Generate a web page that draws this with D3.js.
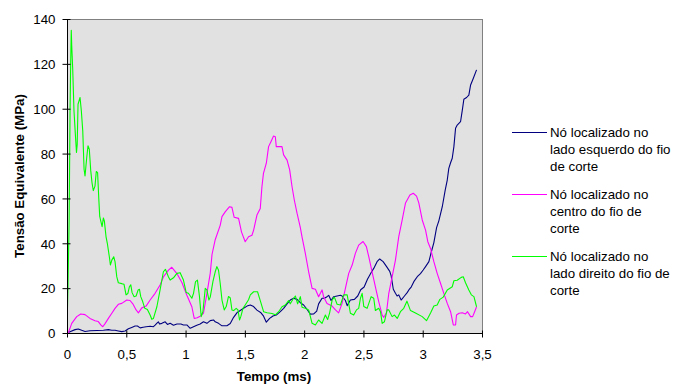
<!DOCTYPE html>
<html>
<head>
<meta charset="utf-8">
<script src="https://cdn.jsdelivr.net/npm/d3@7"></script>
<style>
  body { margin: 0; background: #fff; }
  svg text { font-family: "Liberation Sans", Arial, sans-serif; }
</style>
</head>
<body>
<div id="chart"></div>
<script>
// tempo (ms) / tensao (MPa)
var esquerdo = [[0,0],[0.025,0.6],[0.068,1.5],[0.095,1.8],[0.124,1.2],[0.152,0.7],[0.194,1],[0.251,1.1],[0.307,1.2],[0.349,1.5],[0.378,1.2],[0.405,1.2],[0.433,0.9],[0.462,0.6],[0.490,0.9],[0.518,1.9],[0.546,2.5],[0.574,3.1],[0.594,3.1],[0.617,2.3],[0.642,2.6],[0.667,2.8],[0.701,3],[0.729,2.8],[0.743,3.5],[0.763,4.6],[0.771,5],[0.780,4],[0.800,4.3],[0.828,5],[0.847,3.8],[0.870,4.3],[0.898,3.5],[0.927,4],[0.961,4],[0.982,3.6],[1.011,3.6],[1.039,2.1],[1.067,2.8],[1.095,3.5],[1.123,4],[1.151,5],[1.180,4.3],[1.208,5.5],[1.236,5.8],[1.250,5],[1.278,4.3],[1.307,3.2],[1.349,3.2],[1.377,4.2],[1.405,7],[1.433,9],[1.461,10],[1.489,11],[1.518,12],[1.546,12.5],[1.574,11.8],[1.602,10.2],[1.636,9],[1.658,7.5],[1.681,4.8],[1.709,6.5],[1.737,7.6],[1.765,8],[1.799,9.5],[1.827,11],[1.856,13],[1.883,14.7],[1.911,15.5],[1.940,15],[1.968,13.5],[1.996,12.5],[2.024,10.6],[2.052,8.4],[2.081,8.5],[2.106,9.8],[2.122,13],[2.151,15.5],[2.171,15.5],[2.193,16.2],[2.207,16.8],[2.227,14.5],[2.249,16.2],[2.278,16.5],[2.306,16.8],[2.320,16.5],[2.348,14.5],[2.363,12.2],[2.390,14.7],[2.424,15],[2.452,16.5],[2.477,19.3],[2.506,20.5],[2.534,24],[2.562,26.6],[2.587,28.8],[2.615,31.8],[2.637,33],[2.666,31.8],[2.694,29.7],[2.722,27.5],[2.734,25.5],[2.752,19.5],[2.770,17.7],[2.784,16.5],[2.798,17],[2.818,14.7],[2.846,16.5],[2.869,18],[2.883,19.2],[2.904,20.6],[2.925,22.9],[2.954,25.1],[2.981,26.5],[3.004,28.1],[3.024,29.6],[3.052,31.8],[3.072,36],[3.094,40.3],[3.117,47],[3.136,50],[3.165,56.3],[3.190,63.8],[3.207,68.2],[3.220,73.4],[3.235,75.9],[3.249,77.9],[3.263,83.1],[3.277,91.3],[3.291,92.7],[3.319,94.2],[3.334,99.4],[3.347,104.2],[3.370,105],[3.389,106.1],[3.404,110.6],[3.427,113.6],[3.454,117.3]];

var centro = [[0.011,0],[0.040,4.3],[0.082,7.3],[0.116,8.5],[0.152,8.2],[0.194,6.5],[0.236,5.5],[0.264,5.1],[0.285,3.6],[0.302,2.8],[0.321,4.2],[0.349,6.5],[0.378,8.8],[0.405,11],[0.433,12.8],[0.462,13.2],[0.504,14.7],[0.532,14.5],[0.555,13],[0.583,10.3],[0.602,9],[0.631,11.2],[0.667,12],[0.701,14.7],[0.743,17.7],[0.785,21.4],[0.813,25],[0.856,28],[0.884,29.3],[0.927,26.5],[0.969,22.5],[1.011,16.8],[1.053,11.7],[1.073,6.5],[1.098,6.8],[1.123,7.5],[1.151,8.8],[1.180,17.7],[1.208,26.6],[1.223,35],[1.250,41.6],[1.292,48],[1.307,51.9],[1.334,54],[1.371,56.3],[1.391,56],[1.410,51.6],[1.447,51.1],[1.472,45],[1.503,40.7],[1.531,42.9],[1.560,43.6],[1.574,45.9],[1.602,52.6],[1.630,55.5],[1.644,65.2],[1.657,71.2],[1.681,75.7],[1.700,83.1],[1.720,85.3],[1.742,87.8],[1.757,87.5],[1.765,83.1],[1.813,83.1],[1.827,79.4],[1.856,77.1],[1.878,72.7],[1.898,65.2],[1.917,59.3],[1.940,53.4],[1.968,47],[1.982,42.9],[2.010,35.5],[2.038,27.3],[2.067,19.9],[2.095,19.5],[2.122,16.2],[2.151,19.2],[2.165,16],[2.193,13.2],[2.236,12],[2.264,10.3],[2.291,9],[2.320,13.2],[2.348,19.9],[2.376,26.6],[2.405,30.3],[2.432,35.5],[2.460,39.2],[2.497,40.8],[2.525,38.5],[2.545,34],[2.573,27.3],[2.601,20.6],[2.629,14],[2.658,8],[2.672,7],[2.694,9],[2.714,17.7],[2.742,25],[2.770,32.5],[2.798,43],[2.827,50.4],[2.855,58],[2.892,61.5],[2.920,62.3],[2.948,61],[2.967,58],[2.996,50.4],[3.024,45.9],[3.043,40.7],[3.066,37.7],[3.094,31.8],[3.122,26.6],[3.150,22.2],[3.178,17.7],[3.207,13.2],[3.235,9.5],[3.258,3.6],[3.277,3.6],[3.285,8],[3.307,8.8],[3.334,9],[3.361,8.5],[3.378,9.5],[3.404,7.3],[3.421,7.3],[3.438,9.5],[3.454,11.7]];

var direito = [[0,2],[0.008,20],[0.018,50],[0.026,100],[0.031,120],[0.036,135],[0.040,128],[0.048,118],[0.059,99],[0.070,89],[0.080,80.5],[0.086,84],[0.093,102],[0.110,105],[0.121,99],[0.133,90],[0.144,73],[0.152,70],[0.166,78],[0.177,83.5],[0.188,82],[0.200,72.5],[0.211,67],[0.222,63.5],[0.236,65.5],[0.247,72],[0.258,71.5],[0.268,60],[0.276,52],[0.296,47.4],[0.307,51.3],[0.315,50],[0.329,43],[0.340,40],[0.357,34],[0.366,30.3],[0.378,32.5],[0.394,34],[0.405,31.8],[0.420,25],[0.433,22.4],[0.462,22],[0.481,21.7],[0.498,17],[0.513,17.6],[0.526,20.6],[0.538,21.5],[0.549,18],[0.566,16.2],[0.583,16.5],[0.600,19.2],[0.611,19.5],[0.622,16.2],[0.639,13.9],[0.656,11],[0.678,10.5],[0.701,8],[0.715,6.1],[0.729,6.5],[0.758,11.7],[0.785,19.2],[0.813,27.3],[0.830,28.4],[0.856,25],[0.870,23.6],[0.898,24.6],[0.927,26.6],[0.954,26.9],[0.982,23.6],[1.005,18.1],[1.024,17.7],[1.053,15.5],[1.067,17.7],[1.084,22.9],[1.100,23.6],[1.117,16.4],[1.132,7.3],[1.146,9.5],[1.166,19.9],[1.180,19.2],[1.197,14.7],[1.208,16],[1.231,23],[1.250,27.3],[1.264,29.6],[1.278,28],[1.292,22.2],[1.307,14.7],[1.326,10.3],[1.343,11.8],[1.362,16.3],[1.377,15.6],[1.391,10.3],[1.405,10],[1.427,11],[1.442,10.3],[1.455,5.8],[1.467,7.5],[1.484,11],[1.503,12.5],[1.531,14.8],[1.546,17],[1.574,18.4],[1.607,18.4],[1.630,14.4],[1.658,9.5],[1.687,9],[1.729,8.7],[1.757,8.1],[1.785,9.5],[1.813,11.7],[1.841,12.5],[1.869,14.4],[1.883,13],[1.911,15.5],[1.926,16.5],[1.945,13],[1.968,16.2],[1.982,11.5],[2.010,11],[2.038,10.3],[2.067,4.3],[2.095,3.6],[2.122,5.8],[2.151,4.3],[2.179,8],[2.198,6],[2.215,9],[2.236,14.7],[2.255,16],[2.278,12.8],[2.306,12.5],[2.334,17],[2.363,17],[2.390,8.8],[2.418,8],[2.441,10.3],[2.460,11],[2.475,15.5],[2.489,17.7],[2.503,11.8],[2.531,11],[2.565,16.2],[2.587,15.5],[2.601,10],[2.629,11],[2.644,9.5],[2.658,4.3],[2.677,5],[2.700,10.3],[2.714,10.3],[2.742,7.3],[2.762,8],[2.785,6.5],[2.812,9.5],[2.840,11],[2.867,14.2],[2.897,10],[2.939,8.9],[2.996,7.3],[3.032,5.5],[3.066,8.9],[3.094,12],[3.122,12.5],[3.145,15],[3.173,16],[3.207,19.2],[3.249,20.6],[3.263,23.3],[3.291,23.5],[3.325,24.8],[3.342,25.1],[3.361,22.4],[3.389,19.2],[3.410,17],[3.432,16.2],[3.454,11.7]];

var seriesNames = [
  ["Nó localizado no", "lado esquerdo do fio", "de corte"],
  ["Nó localizado no", "centro do fio de", "corte"],
  ["Nó localizado no", "lado direito do fio de", "corte"]
];
var seriesColors = ["#000080", "#ff00ff", "#00ff00"];
var xTicks = [0, 0.5, 1, 1.5, 2, 2.5, 3, 3.5];
var yTicks = [0, 20, 40, 60, 80, 100, 120, 140];

var W = 685, H = 385;
var pLeft = 67, pTop = 19, pRight = 482, pBottom = 333;

var svg = d3.select("#chart").append("svg")
    .attr("width", W).attr("height", H);

var x = d3.scaleLinear().domain([0, 3.5]).range([pLeft, pRight]);
var y = d3.scaleLinear().domain([0, 140]).range([pBottom, pTop]);

// fundo da area de plotagem
svg.append("rect")
    .attr("x", pLeft + 0.5).attr("y", pTop + 0.5)
    .attr("width", pRight - pLeft).attr("height", pBottom - pTop)
    .attr("fill", "#e1e1e1")
    .attr("stroke", "#808080").attr("stroke-width", 1);

svg.append("clipPath").attr("id", "plotclip")
  .append("rect").attr("x", pLeft).attr("y", pTop - 2)
    .attr("width", pRight - pLeft).attr("height", pBottom - pTop + 2);

var line = d3.line()
    .x(function(d) { return x(d[0]); })
    .y(function(d) { return y(d[1]); });

var allSeries = [esquerdo, centro, direito];
var lines = svg.append("g").attr("clip-path", "url(#plotclip)");
allSeries.forEach(function(s, i) {
  lines.append("path")
      .datum(s)
      .attr("d", line)
      .attr("fill", "none")
      .attr("stroke", seriesColors[i])
      .attr("stroke-width", 1.1)
      .attr("stroke-linejoin", "round");
});

var fmt = function(d) { return String(d).replace(".", ","); };

// eixo y
var yAxis = d3.axisLeft(y).tickValues(yTicks).tickSize(0).tickFormat(fmt);
var gy = svg.append("g").attr("transform", "translate(" + (pLeft + 0.5) + ",0)").call(yAxis);
gy.select(".domain").attr("stroke", "#000").attr("d", "M0," + pTop + "V" + (pBottom + 0.5));
gy.selectAll(".tick line").attr("x1", -5).attr("x2", 3).attr("stroke", "#000");
gy.selectAll(".tick text").attr("x", -12).attr("dy", "0.36em")
    .style("font-size", "13.3px").attr("fill", "#000");

// eixo x
var xAxis = d3.axisBottom(x).tickValues(xTicks).tickSize(0).tickFormat(fmt);
var gx = svg.append("g").attr("transform", "translate(0," + (pBottom + 0.5) + ")").call(xAxis);
gx.select(".domain").attr("stroke", "#000").attr("d", "M" + pLeft + ",0H" + (pRight + 1));
gx.selectAll(".tick line").attr("y1", -3).attr("y2", 4).attr("stroke", "#000");
gx.selectAll(".tick text").attr("y", 25).attr("dy", 0)
    .style("font-size", "13.3px").attr("fill", "#000");

svg.append("text")
    .attr("transform", "translate(24,176) rotate(-90)")
    .attr("text-anchor", "middle")
    .style("font-size", "13.3px").style("font-weight", "bold")
    .text("Tensão Equivalente (MPa)");

svg.append("text")
    .attr("x", 274).attr("y", 381)
    .attr("text-anchor", "middle")
    .style("font-size", "13.3px").style("font-weight", "bold")
    .text("Tempo (ms)");

// legenda
svg.append("clipPath").attr("id", "legclip")
  .append("rect").attr("x", 500).attr("y", 100).attr("width", 171).attr("height", 220);

var legend = svg.append("g").attr("clip-path", "url(#legclip)");
seriesNames.forEach(function(names, i) {
  var base = 137 + i * 62;
  legend.append("line")
      .attr("x1", 512).attr("x2", 547)
      .attr("y1", base - 4.5).attr("y2", base - 4.5)
      .attr("stroke", seriesColors[i]).attr("stroke-width", 1.1);
  names.forEach(function(t, j) {
    legend.append("text")
        .attr("x", 550).attr("y", base + j * 17)
        .style("font-size", "13.3px")
        .text(t);
  });
});
</script>
</body>
</html>
